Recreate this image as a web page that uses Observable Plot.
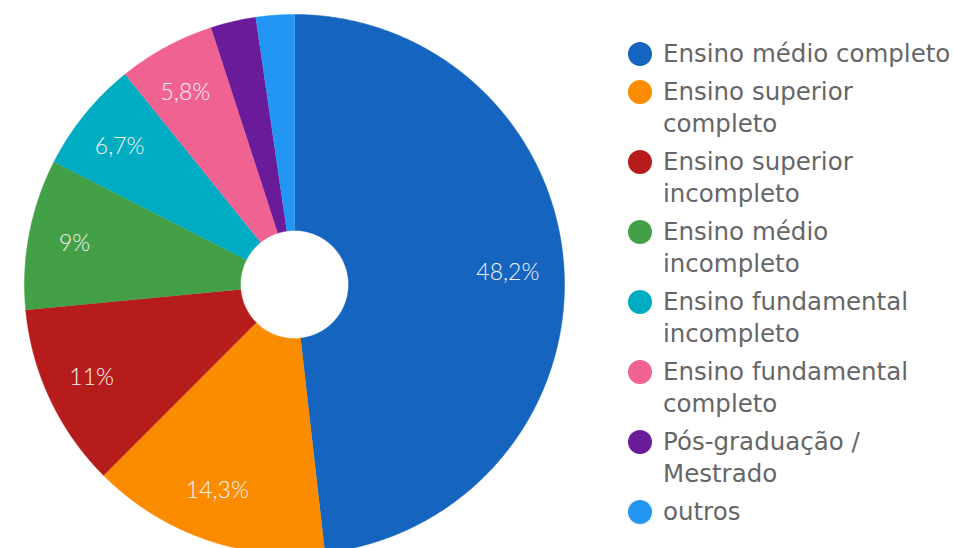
<!DOCTYPE html>
<html>
<head>
<meta charset="utf-8">
<script src="https://cdn.jsdelivr.net/npm/d3@7"></script>
<script src="https://cdn.jsdelivr.net/npm/@observablehq/plot@0.6"></script>
<style>
  html, body { margin: 0; padding: 0; background: #fff; }
  #wrap { position: relative; width: 954px; height: 548px; overflow: hidden; }
  #chart { position: absolute; left: 0; top: 0; }
  #legend { position: absolute; left: 628px; top: 38px; display: flex; flex-direction: column; gap: 6px;
            font-family: "DejaVu Sans", sans-serif; font-size: 24.5px; line-height: 32px; color: #666; }
  .item { display: flex; align-items: flex-start; white-space: nowrap; }
  .dot { width: 24px; height: 24px; border-radius: 50%; margin-top: 4px; margin-right: 11px; flex: none; }
</style>
</head>
<body>
<div id="wrap"><div id="chart"></div><div id="legend"></div></div>
<script>
const categories = [
  "Ensino médio completo",
  "Ensino superior completo",
  "Ensino superior incompleto",
  "Ensino médio incompleto",
  "Ensino fundamental incompleto",
  "Ensino fundamental completo",
  "Pós-graduação / Mestrado",
  "outros"
];
const legendLines = [
  ["Ensino médio completo"],
  ["Ensino superior", "completo"],
  ["Ensino superior", "incompleto"],
  ["Ensino médio", "incompleto"],
  ["Ensino fundamental", "incompleto"],
  ["Ensino fundamental", "completo"],
  ["Pós-graduação /", "Mestrado"],
  ["outros"]
];
const values = [48.2, 14.3, 11, 9, 6.7, 5.8, 2.7, 2.3];
const labels = ["48,2%", "14,3%", "11%", "9%", "6,7%", "5,8%", "", ""];
const colors = ["#1565C0", "#FB8C00", "#B71C1C", "#43A047", "#00ACC1", "#F06292", "#6A1B9A", "#2196F3"];

const W = 600, H = 548, R = 270, CX = 294, CY = 284, INNER = 54 / 270;

const pie = d3.pie().sort(null).value(d => d.value);
const arcs = pie(categories.map((c, i) => ({key: c, value: values[i], label: labels[i]})));

const pts = [];
for (const a of arcs) {
  const n = Math.max(4, Math.ceil((a.endAngle - a.startAngle) / 0.005));
  for (let k = 0; k <= n; k++) {
    const t = a.startAngle + (a.endAngle - a.startAngle) * k / n;
    pts.push({key: a.data.key, x: Math.sin(t), y: Math.cos(t)});
  }
  for (let k = n; k >= 0; k--) {
    const t = a.startAngle + (a.endAngle - a.startAngle) * k / n;
    pts.push({key: a.data.key, x: INNER * Math.sin(t), y: INNER * Math.cos(t)});
  }
}
const labelData = arcs.filter(a => a.data.label).map(a => {
  const m = (a.startAngle + a.endAngle) / 2;
  const r = 0.81;
  return {x: r * Math.sin(m), y: r * Math.cos(m), text: a.data.label};
});

const chart = Plot.plot({
  width: W, height: H,
  margin: 0,
  x: {domain: [-CX / R, (W - CX) / R], axis: null},
  y: {domain: [-(H - CY) / R, CY / R], axis: null},
  color: {domain: categories, range: colors},
  marks: [
    Plot.line(pts, {x: "x", y: "y", z: "key", fill: "key", stroke: "key", strokeWidth: 0.5, curve: "linear"}),
    Plot.text(labelData, {x: "x", y: "y", dx: -5, text: "text", fill: "#f4f4f4", fontSize: 23, fontFamily: "Lato", fontWeight: 300})
  ]
});
document.getElementById("chart").appendChild(chart);

const legend = document.getElementById("legend");
categories.forEach((c, i) => {
  const item = document.createElement("div");
  item.className = "item";
  const dot = document.createElement("span");
  dot.className = "dot";
  dot.style.background = colors[i];
  const txt = document.createElement("span");
  txt.innerHTML = legendLines[i].join("<br>");
  item.appendChild(dot);
  item.appendChild(txt);
  legend.appendChild(item);
});
</script>
</body>
</html>
